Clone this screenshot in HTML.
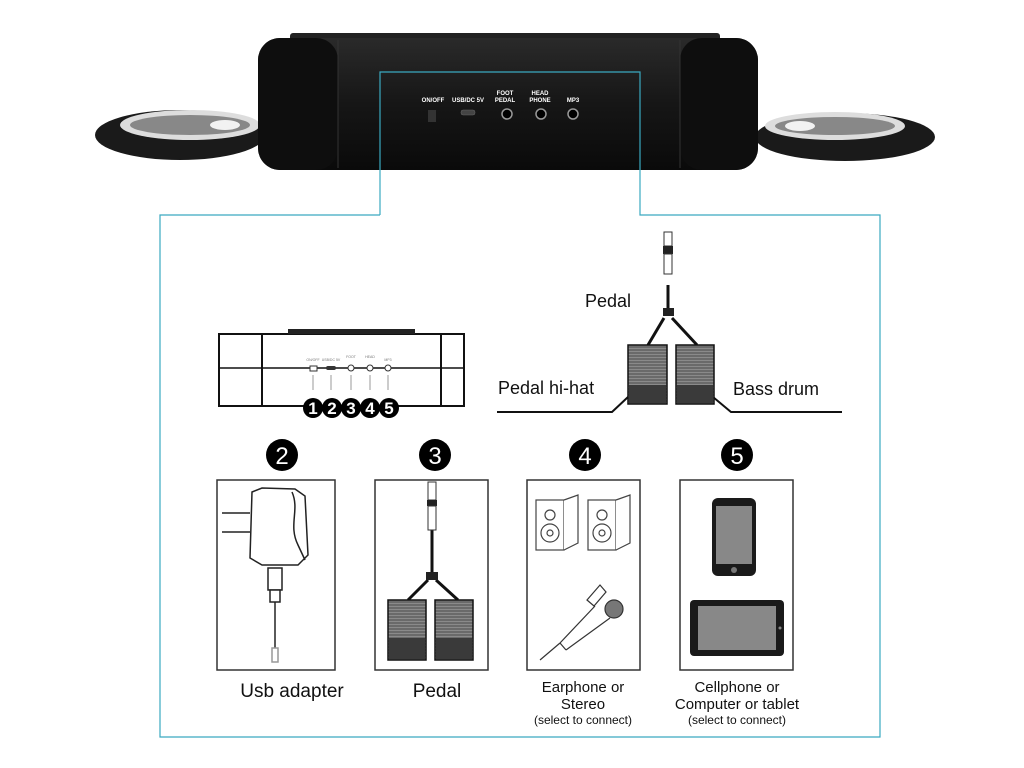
<!DOCTYPE html>
<html><head><meta charset="utf-8"><style>
html,body{margin:0;padding:0;background:#fff;}
svg{display:block;font-family:"Liberation Sans",sans-serif;}
</style></head><body>
<svg width="1024" height="768" viewBox="0 0 1024 768">
<defs>
<linearGradient id="body" x1="0" y1="0" x2="0" y2="1">
<stop offset="0" stop-color="#2a2a2a"/><stop offset="0.5" stop-color="#161616"/><stop offset="1" stop-color="#0a0a0a"/>
</linearGradient>
<pattern id="stripe" width="4" height="3" patternUnits="userSpaceOnUse">
<rect width="4" height="3" fill="#6a6a6a"/><rect width="4" height="1" fill="#8a8a8a"/>
</pattern>
</defs>
<!-- pads -->
<ellipse cx="180" cy="135" rx="85" ry="25" fill="#1a1a1a"/>
<ellipse cx="190" cy="125" rx="70" ry="15" fill="#ddd"/>
<ellipse cx="190" cy="125" rx="60" ry="10" fill="#888"/>
<ellipse cx="225" cy="125" rx="15" ry="5" fill="#f2f2f2"/>
<ellipse cx="845" cy="137" rx="90" ry="24" fill="#1a1a1a"/>
<ellipse cx="835" cy="126" rx="70" ry="14" fill="#ddd"/>
<ellipse cx="835" cy="126" rx="60" ry="9" fill="#888"/>
<ellipse cx="800" cy="126" rx="15" ry="5" fill="#f2f2f2"/>
<!-- device -->
<rect x="290" y="33" width="430" height="10" rx="3" fill="#222"/>
<rect x="258" y="38" width="500" height="132" rx="22" fill="url(#body)"/>
<rect x="258" y="38" width="80" height="132" rx="22" fill="#0e0e0e"/>
<rect x="680" y="38" width="78" height="132" rx="22" fill="#0e0e0e"/>
<line x1="338" y1="40" x2="338" y2="168" stroke="#333"/>
<line x1="680" y1="40" x2="680" y2="168" stroke="#333"/>
<g fill="#fff" font-size="6" font-weight="bold" text-anchor="middle">
<text x="433" y="102">ON/OFF</text><text x="468" y="102">USB/DC 5V</text>
<text x="505" y="95">FOOT</text><text x="505" y="102">PEDAL</text>
<text x="540" y="95">HEAD</text><text x="540" y="102">PHONE</text>
<text x="573" y="102">MP3</text>
</g>
<rect x="428" y="110" width="8" height="12" fill="#333"/>
<rect x="461" y="110" width="14" height="5" rx="2" fill="#444" stroke="#666" stroke-width="0.5"/>
<circle cx="507" cy="114" r="5" fill="#000" stroke="#999" stroke-width="1.5"/>
<circle cx="541" cy="114" r="5" fill="#000" stroke="#999" stroke-width="1.5"/>
<circle cx="573" cy="114" r="5" fill="#000" stroke="#999" stroke-width="1.5"/>
<!-- blue frame -->
<polyline points="380,215 160,215 160,737 880,737 880,215 640,215 640,72 380,72 380,215" fill="none" stroke="#3aa9c0" stroke-width="1.2"/>
<!-- small device -->
<g stroke="#111" stroke-width="2" fill="none">
<rect x="219" y="334" width="245" height="72"/>
<line x1="262" y1="334" x2="262" y2="406"/><line x1="441" y1="334" x2="441" y2="406"/>
<line x1="219" y1="368" x2="464" y2="368" stroke-width="1.5"/>
</g>
<rect x="288" y="329" width="127" height="5" fill="#222"/>
<g stroke="#999" stroke-width="1"><line x1="313" y1="375" x2="313" y2="390"/><line x1="331" y1="375" x2="331" y2="390"/><line x1="351" y1="375" x2="351" y2="390"/><line x1="370" y1="375" x2="370" y2="390"/><line x1="388" y1="375" x2="388" y2="390"/></g>
<g fill="#777" font-size="3.5" text-anchor="middle"><text x="313" y="361">ON/OFF</text><text x="331" y="361">USB/DC 5V</text><text x="351" y="358">FOOT</text><text x="370" y="358">HEAD</text><text x="388" y="361">MP3</text></g>
<g fill="#fff" stroke="#333" stroke-width="1"><rect x="310" y="366" width="7" height="5"/><circle cx="351" cy="368" r="3"/><circle cx="370" cy="368" r="3"/><circle cx="388" cy="368" r="3"/></g>
<rect x="326" y="366" width="10" height="4" rx="2" fill="#333"/>
<g font-size="17" font-weight="bold" text-anchor="middle">
<circle cx="313" cy="408" r="10"/><circle cx="332" cy="408" r="10"/><circle cx="351" cy="408" r="10"/><circle cx="370" cy="408" r="10"/><circle cx="389" cy="408" r="10"/>
<g fill="#fff"><text x="313" y="414">1</text><text x="332" y="414">2</text><text x="351" y="414">3</text><text x="370" y="414">4</text><text x="389" y="414">5</text></g>
</g>
<!-- top-right pedal diagram -->
<g stroke="#111" stroke-width="2" fill="none">
<polyline points="497,412 612,412 628,397"/><polyline points="713,397 731,412 842,412"/>
<line x1="668" y1="285" x2="668" y2="310" stroke-width="3"/>
<line x1="664" y1="318" x2="648" y2="345" stroke-width="3"/><line x1="672" y1="318" x2="697" y2="345" stroke-width="3"/>
</g>
<rect x="664" y="232" width="8" height="14" fill="#fff" stroke="#333"/>
<rect x="663" y="246" width="10" height="8" fill="#222"/>
<rect x="664" y="254" width="8" height="20" fill="#fff" stroke="#333"/>
<rect x="663" y="308" width="11" height="8" fill="#222"/>
<g stroke="#111" stroke-width="1.5"><rect x="628" y="345" width="39" height="59" fill="url(#stripe)"/><rect x="676" y="345" width="38" height="59" fill="url(#stripe)"/></g>
<rect x="629" y="385" width="37" height="18" fill="#3a3a3a"/><rect x="677" y="385" width="36" height="18" fill="#3a3a3a"/>
<g font-size="18" fill="#111"><text x="585" y="307">Pedal</text><text x="498" y="394">Pedal hi-hat</text><text x="733" y="395">Bass drum</text></g>
<!-- numbered circles -->
<g><circle cx="282" cy="455" r="16"/><circle cx="435" cy="455" r="16"/><circle cx="585" cy="455" r="16"/><circle cx="737" cy="455" r="16"/></g>
<g fill="#fff" font-size="24" text-anchor="middle"><text x="282" y="464">2</text><text x="435" y="464">3</text><text x="585" y="464">4</text><text x="737" y="464">5</text></g>
<!-- boxes -->
<g fill="none" stroke="#333" stroke-width="1.5">
<rect x="217" y="480" width="118" height="190"/><rect x="375" y="480" width="113" height="190"/><rect x="527" y="480" width="113" height="190"/><rect x="680" y="480" width="113" height="190"/>
</g>
<!-- usb adapter -->
<g stroke="#222" stroke-width="1.5" fill="#fff">
<line x1="222" y1="513" x2="250" y2="513"/><line x1="222" y1="532" x2="250" y2="532"/>
<path d="M252 492 L262 488 L295 489 L305 496 L308 555 L298 565 L262 565 L250 558 Z"/>
<path d="M292 492 C300 510 288 525 298 545 L305 560" fill="none"/>
<rect x="268" y="568" width="14" height="22"/><rect x="270" y="590" width="10" height="12"/>
<line x1="275" y1="602" x2="275" y2="648"/><rect x="272" y="648" width="6" height="14" stroke="#999"/>
</g>
<!-- pedal box -->
<g stroke="#111" stroke-width="2" fill="none"><line x1="432" y1="530" x2="432" y2="572" stroke-width="3"/><line x1="428" y1="580" x2="408" y2="600" stroke-width="3"/><line x1="436" y1="580" x2="458" y2="600" stroke-width="3"/></g>
<rect x="428" y="482" width="8" height="18" fill="#fff" stroke="#333"/><rect x="427" y="500" width="10" height="6" fill="#222"/><rect x="428" y="506" width="8" height="24" fill="#fff" stroke="#333"/>
<rect x="426" y="572" width="12" height="8" fill="#222"/>
<g stroke="#111" stroke-width="1.5"><rect x="388" y="600" width="38" height="60" fill="url(#stripe)"/><rect x="435" y="600" width="38" height="60" fill="url(#stripe)"/></g>
<rect x="389" y="638" width="36" height="21" fill="#3a3a3a"/><rect x="436" y="638" width="36" height="21" fill="#3a3a3a"/>
<!-- speakers -->
<g stroke="#444" stroke-width="1.2" fill="#fff">
<rect x="536" y="500" width="28" height="50"/><path d="M564 500 L578 495 L578 543 L564 550"/>
<circle cx="550" cy="515" r="5"/><circle cx="550" cy="533" r="9"/><circle cx="550" cy="533" r="3"/>
<rect x="588" y="500" width="28" height="50"/><path d="M616 500 L630 495 L630 543 L616 550"/>
<circle cx="602" cy="515" r="5"/><circle cx="602" cy="533" r="9"/><circle cx="602" cy="533" r="3"/>
</g>
<g stroke="#333" stroke-width="1.2" fill="#fff">
<circle cx="614" cy="609" r="9" fill="#777"/>
<path d="M587 600 L600 585 L606 592 L594 606 Z"/>
<line x1="540" y1="660" x2="560" y2="643"/><line x1="560" y1="643" x2="595" y2="606"/><line x1="566" y1="650" x2="610" y2="618"/><line x1="560" y1="643" x2="566" y2="650"/>
</g>
<!-- phone & tablet -->
<rect x="712" y="498" width="44" height="78" rx="6" fill="#1a1a1a"/><rect x="716" y="506" width="36" height="58" fill="#888"/><circle cx="734" cy="570" r="3" fill="#777"/>
<rect x="690" y="600" width="94" height="56" rx="4" fill="#1a1a1a"/><rect x="698" y="606" width="78" height="44" fill="#888"/><circle cx="780" cy="628" r="1.5" fill="#888"/>
<!-- labels -->
<g fill="#111" text-anchor="middle">
<text x="292" y="697" font-size="19">Usb adapter</text>
<text x="437" y="697" font-size="19">Pedal</text>
<g font-size="15"><text x="583" y="692">Earphone or</text><text x="583" y="709">Stereo</text><text x="737" y="692">Cellphone  or</text><text x="737" y="709">Computer or tablet</text></g>
<g font-size="12"><text x="583" y="724">(select to connect)</text><text x="737" y="724">(select to connect)</text></g>
</g>
</svg>
</body></html>
